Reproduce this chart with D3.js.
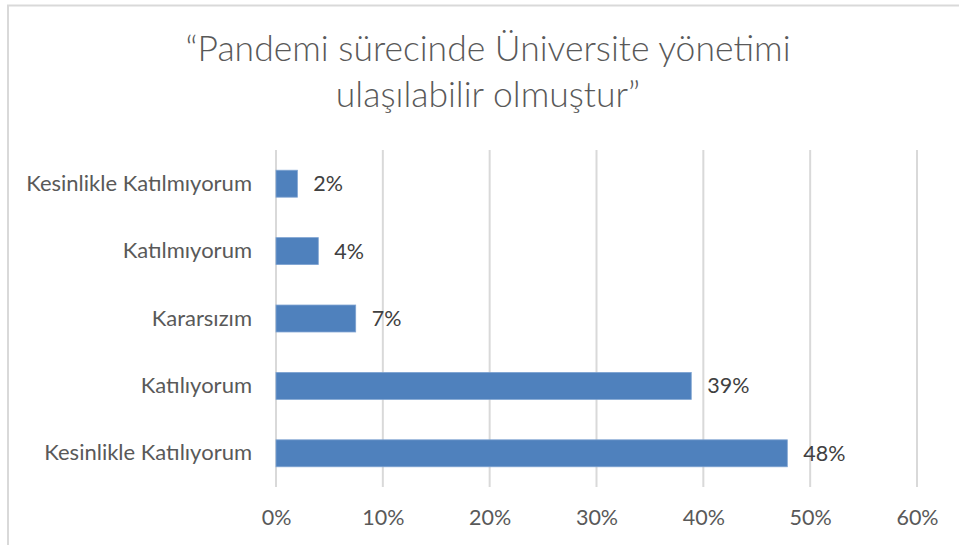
<!DOCTYPE html>
<html>
<head>
<meta charset="utf-8">
<script src="https://cdn.jsdelivr.net/npm/d3@7"></script>
<style>
  body { margin: 0; background: #fff; }
  svg text { font-family: Lato, "Open Sans", sans-serif; }
</style>
</head>
<body>
<svg width="959" height="545"></svg>
<script>
// Chart data
let categories = ['Kesinlikle Katılmıyorum', 'Katılmıyorum', 'Kararsızım', 'Katılıyorum', 'Kesinlikle Katılıyorum'];
let values = [2.0, 3.96, 7.46, 38.87, 47.86];
let valueLabels = ['2%', '4%', '7%', '39%', '48%'];
let ticks = [0, 10, 20, 30, 40, 50, 60];
let titleLines = ['“Pandemi sürecinde Üniversite yönetimi', 'ulaşılabilir olmuştur”'];

let svg = d3.select('svg');
let width = +svg.attr('width');
let height = +svg.attr('height');
let margin = {top: 150, right: 42, bottom: 58, left: 276};

// Outer chart border
svg.append('rect')
    .attr('x', 8).attr('y', 5.5)
    .attr('width', width + 10).attr('height', height + 10)
    .attr('fill', 'none')
    .attr('stroke', '#d9d9d9')
    .attr('stroke-width', 2);

// Title
svg.append('text')
    .attr('text-anchor', 'middle')
    .attr('fill', '#595959')
    .attr('font-size', '35.5px')
    .attr('font-weight', 300)
    .selectAll('tspan')
    .data(titleLines)
    .enter().append('tspan')
    .attr('x', 488)
    .attr('y', (d, i) => 61 + i * 46)
    .text(d => d);

// Scales
let x = d3.scaleLinear()
    .domain([0, 60])
    .range([margin.left, width - margin.right]);

let y = d3.scaleBand()
    .domain(categories)
    .range([margin.top, height - margin.bottom])
    .paddingInner(0.6)
    .paddingOuter(0.3);

// Gridlines
svg.append('g')
    .selectAll('line')
    .data(ticks)
    .enter().append('line')
    .attr('x1', d => x(d)).attr('x2', d => x(d))
    .attr('y1', margin.top).attr('y2', height - margin.bottom)
    .attr('stroke', '#d9d9d9')
    .attr('stroke-width', 2);

// Bottom axis labels (no axis line)
let xAxis = svg.append('g')
    .attr('transform', 'translate(0,' + (height - margin.bottom) + ')')
    .call(d3.axisBottom(x).tickValues(ticks).tickSize(0).tickPadding(23).tickFormat(d => d + '%'));
xAxis.select('.domain').remove();
xAxis.selectAll('text')
    .attr('fill', '#595959')
    .style('font-family', 'Lato, sans-serif')
    .attr('font-size', '21.5px');

// Left axis labels
let yAxis = svg.append('g')
    .attr('transform', 'translate(' + margin.left + ',0)')
    .call(d3.axisLeft(y).tickSize(0).tickPadding(24));
yAxis.select('.domain').remove();
yAxis.selectAll('text')
    .attr('fill', '#595959')
    .style('font-family', 'Lato, sans-serif')
    .attr('font-size', '22px');

// Bars
svg.append('g')
    .selectAll('rect')
    .data(values)
    .enter().append('rect')
    .attr('x', x(0))
    .attr('y', (d, i) => y(categories[i]))
    .attr('width', d => x(d) - x(0))
    .attr('height', y.bandwidth())
    .attr('fill', '#4f81bd')
    .attr('stroke', '#7ea3d1')
    .attr('stroke-width', 0.8);

// Value labels
svg.append('g')
    .selectAll('text')
    .data(values)
    .enter().append('text')
    .attr('x', d => x(d) + 16)
    .attr('y', (d, i) => y(categories[i]) + y.bandwidth() / 2)
    .attr('dy', '0.35em')
    .attr('fill', '#404040')
    .attr('font-size', '21.5px')
    .text((d, i) => valueLabels[i]);
</script>
</body>
</html>
